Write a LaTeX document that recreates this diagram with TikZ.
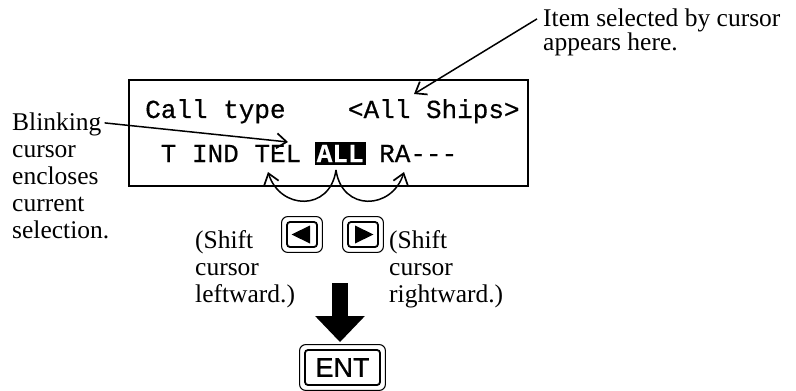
\documentclass[tikz,border=0pt]{standalone}
\usepackage{fontspec}
\usetikzlibrary{arrows.meta}
\newfontfamily\labfont{Liberation Serif}
\newfontfamily\lcdfont[FakeBold=0.5]{Liberation Mono}
\newfontfamily\keyfont[FakeBold=0.8]{Liberation Sans}
\begin{document}
\begin{tikzpicture}[x=1pt,y=-1pt,
  lbl/.style={font=\labfont\fontsize{25.5}{27}\selectfont, inner sep=0pt, anchor=base west},
  lcd/.style={font=\lcdfont\fontsize{26}{26}\selectfont, inner sep=0pt, anchor=base west},
  arr/.style={line width=1.5pt, -{Straight Barb[length=10pt,width=15pt,line width=1.7pt]}},
  keyin/.style={draw, line width=1.8pt, rounded corners=3pt, inner sep=0pt, minimum width=30pt, minimum height=25pt},
  keyout/.style={line width=1.1pt, rounded corners=6pt}]
\path[use as bounding box] (0,0) rectangle (796,391);

% top right label
\node[lbl] (it1) at (543,26) {Item selected by cursor};
\node[lbl] (it2) at (543,50) {appears here.};

% left label
\node[lbl] (b1) at (12,130) {Blinking};
\node[lbl] (b2) at (12,157) {cursor};
\node[lbl] (b3) at (12,184) {encloses};
\node[lbl] (b4) at (12,211) {current};
\node[lbl] (b5) at (12,238) {selection.};

% LCD box
\node[draw, line width=1.6pt, minimum width=399pt, minimum height=106pt, inner sep=0pt] (lcdbox) at (328.5,133) {};
\node[lcd] (r1a) at (145,118) {Call type};
\node[lcd] (r1b) at (347.8,118) {<All Ships>};
\node[lcd] (r2a) at (160.6,162) {T IND TEL};
\node[lcd, fill=black, text=white, inner xsep=2pt, inner ysep=3pt, font=\lcdfont\bfseries\fontsize{26}{26}\selectfont] (all) at (314.6,162) {ALL};
\node[lcd] (r2b) at (379,162) {RA---};

% arrows to the box
\coordinate (selpt) at (414,94);
\draw[arr] ([xshift=-6pt,yshift=1pt]it1.west) -- (selpt);
\coordinate (telpt) at (288,142);
\draw[arr] ([xshift=3pt,yshift=1pt]b1.east) -- (telpt);

% cursor motion arcs
\coordinate (allb) at (336,170);
\coordinate (lefte) at (268,172);
\coordinate (righte) at (404,172);
\draw[arr] (allb) .. controls (330,212) and (280,210) .. (lefte);
\draw[arr] (allb) .. controls (342,212) and (392,210) .. (righte);

% shift labels
\node[lbl] (sl1) at (195,248) {(Shift};
\node[lbl] (sl2) at (195,275) {cursor};
\node[lbl] (sl3) at (195,302) {leftward.)};
\node[lbl] (sr1) at (389,248) {(Shift};
\node[lbl] (sr2) at (389,275) {cursor};
\node[lbl] (sr3) at (389,302) {rightward.)};

% cursor keys
\node[keyin] (lk) at (302,234.5) {};
\draw[keyout] ([xshift=-4.5pt,yshift=-4.5pt]lk.south west) rectangle ([xshift=4.5pt,yshift=4.5pt]lk.north east);
\fill (291.5,234.5) -- (310,225.5) -- (310,243.5) -- cycle;
\node[keyin] (rk) at (363,234.5) {};
\draw[keyout] ([xshift=-4.5pt,yshift=-4.5pt]rk.south west) rectangle ([xshift=4.5pt,yshift=4.5pt]rk.north east);
\fill (373.5,234.5) -- (355,225.5) -- (355,243.5) -- cycle;

% ENT key
\node[keyin, minimum width=75pt, minimum height=35pt, font=\keyfont\fontsize{27}{27}\selectfont] (ent) at (342.5,367.5) {ENT};
\draw[keyout] ([xshift=-4.5pt,yshift=-4.5pt]ent.south west) rectangle ([xshift=4.5pt,yshift=4.5pt]ent.north east);

% big down arrow
\coordinate (dtop) at (340,283);
\draw[line width=16pt, -{Triangle[length=26pt,width=48pt]}] (dtop) -- ([xshift=-2.5pt,yshift=7pt]ent.north);
\end{tikzpicture}
\end{document}
